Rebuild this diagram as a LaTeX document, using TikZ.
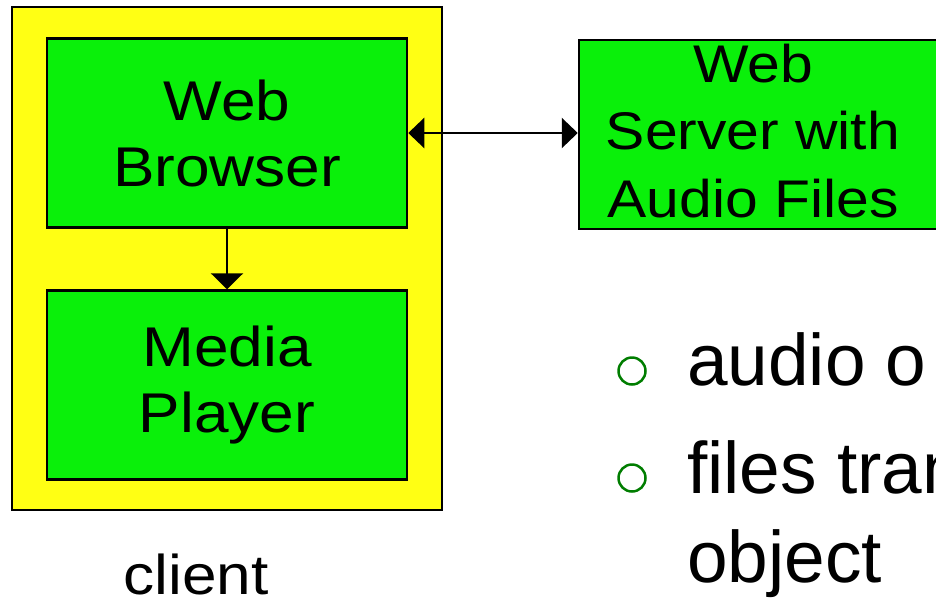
\documentclass[tikz,border=0pt]{standalone}
\usepackage{fontspec}
\setmainfont{Liberation Sans}
\newfontfamily\wideface{Liberation Sans}[FakeStretch=1.11]
\usetikzlibrary{positioning}
\usetikzlibrary{arrows.meta}
\definecolor{boxgreen}{RGB}{10,240,10}
\definecolor{boxyellow}{RGB}{255,255,20}
\definecolor{bulletgreen}{RGB}{0,125,0}

\begin{document}
\begin{tikzpicture}[x=1pt, y=-1pt,
    greenbox/.style={draw, line width=2.5pt, fill=boxgreen, align=center,
      minimum width=360pt, minimum height=189pt, inner sep=0pt,
      font=\wideface\fontsize{56}{66}\selectfont},
    bulletring/.style={draw=bulletgreen, line width=2.5pt, circle,
      minimum size=27pt, inner sep=0pt},
    link/.style={line width=2.5pt, {Triangle[length=16pt,width=30pt]}-{Triangle[length=16pt,width=30pt]}}]

                \useasboundingbox (0,0) rectangle (936,598);

                % Nodes
                \node at (227,258.5) (client box) [draw, line width=2.5pt, fill=boxyellow,
                  minimum width=430pt, minimum height=503pt] {};
                \node at (227,133) (browser) [greenbox] {Web\\Browser};
                \node at (227,385) (player) [greenbox] {Media\\Player};
                \node at (774,134.5) (server) [greenbox, minimum width=390pt] {};
                \node at (753,131) (server text) [align=center, inner sep=0pt,
                  font=\wideface\fontsize{53}{67.5}\selectfont] {Web\\Server with\\Audio Files};
                \node at (196,574) (client) [inner sep=0pt, font=\wideface\fontsize{56}{66}\selectfont] {client};

                % Bullets
                \node at (632,371) (ring one) [bulletring] {};
                \node at (632,478) (ring two) [bulletring] {};
                \node at (687,385) (audio) [anchor=base west, inner sep=0pt,
                  font=\fontsize{73}{89}\selectfont] {audio o};
                \node at (687,582) (files) [anchor=base west, inner sep=0pt, align=left,
                  font=\fontsize{73}{89}\selectfont] {files tran\\object};

                % Arrows
                \draw[link] (browser.east) -- (server.west |- browser.east);
                \draw[line width=2.5pt, -{Triangle[length=16pt,width=32pt]}] (browser.south) -- (player.north);

\end{tikzpicture}
\end{document}
